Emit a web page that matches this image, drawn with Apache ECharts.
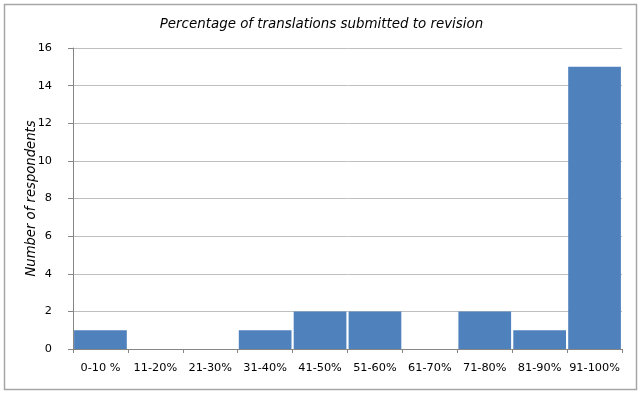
<!DOCTYPE html>
<html><head><meta charset="utf-8">
<script src="https://cdn.jsdelivr.net/npm/echarts@6/dist/echarts.min.js"></script>
<style>html,body{margin:0;padding:0;background:#fff}#c{width:643px;height:395px}</style>
</head><body><div id="c"></div>
<script>
const categories = ['0-10 %','11-20%','21-30%','31-40%','41-50%','51-60%','61-70%','71-80%','81-90%','91-100%'];
const respondents = [1,0,0,1,2,2,0,2,1,15];
const yTicks = {min:0, max:16, interval:2};
const titleText = 'Percentage of translations submitted to revision';
const yName = 'Number of respondents';

const chart = echarts.init(document.getElementById('c'), null, {renderer:'canvas'});
chart.setOption({
  animation:false,
  backgroundColor:'#fff',
  graphic:[{type:'rect', shape:{x:4.5,y:4.5,width:632,height:385}, style:{fill:'none', stroke:'#a6a6a6', lineWidth:1.5}, silent:true}],
  title:{text:titleText, left:'center', top:13, textStyle:{fontFamily:'DejaVu Sans', fontStyle:'italic', fontWeight:'normal', fontSize:13.4, color:'#000'}},
  grid:{left:73, right:21, top:48, bottom:46},
  xAxis:{type:'category', data:categories, boundaryGap:true,
    axisLine:{lineStyle:{color:'#868686'}},
    axisTick:{show:true, length:4, lineStyle:{color:'#868686'}},
    axisLabel:{fontFamily:'DejaVu Sans', fontSize:11.3, color:'#000', margin:14, interval:0}},
  yAxis:{type:'value', min:yTicks.min, max:yTicks.max, interval:yTicks.interval,
    name:yName, nameLocation:'middle', nameGap:35, nameRotate:90, nameMoveOverlap:false,
    nameTextStyle:{fontFamily:'DejaVu Sans', fontStyle:'italic', fontSize:13.2, color:'#000'},
    axisLine:{show:true, lineStyle:{color:'#868686'}},
    axisTick:{show:true, length:5, lineStyle:{color:'#868686'}},
    splitLine:{lineStyle:{color:'#bfbfbf', width:1}},
    axisLabel:{fontFamily:'DejaVu Sans', fontSize:11.3, color:'#000', margin:21}},
  series:[{type:'bar', data:respondents, barCategoryGap:'4%', itemStyle:{color:'#4F81BD'}}]
});
</script></body></html>
